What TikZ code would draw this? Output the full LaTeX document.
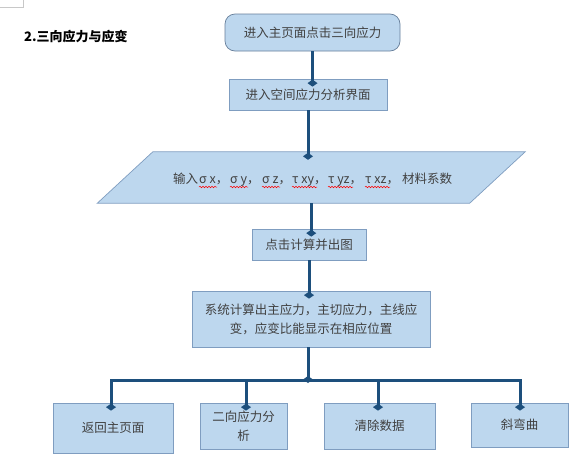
\documentclass[tikz,border=0pt]{standalone}
\usepackage{fontspec}
\setmainfont{Noto Sans CJK SC}
\usetikzlibrary{arrows.meta,decorations.pathmorphing}
\definecolor{fillc}{HTML}{BDD7EE}
\definecolor{bordc}{HTML}{7F9DC0}
\definecolor{arrc}{HTML}{1D4F7C}
\definecolor{txt}{HTML}{404040}
\definecolor{markc}{HTML}{C8C8C8}
\tikzset{
  box/.style={draw=bordc, fill=fillc, line width=0.7pt, inner sep=0pt, text=txt,
    font=\fontsize{12.5}{19}\selectfont, align=center},
  arr/.style={draw=arrc, line width=3pt, -{Diamond[length=7pt,width=10pt]}, shorten >=-8pt},
  busline/.style={draw=arrc, line width=3pt, line cap=rect},
  tok/.style={inner sep=0pt, anchor=base west, text=txt, font=\fontsize{12.5}{15}\selectfont},
  wavy/.style={draw=red, line width=0.5pt, decorate, decoration={snake, amplitude=0.8pt, segment length=3pt}}
}
\begin{document}
\begin{tikzpicture}[x=1pt, y=-1pt]
\useasboundingbox (0,0) rectangle (585,461);
% corner mark
\draw[markc, line width=0.6pt] (0,7) -- (23,7) -- (23,0);
% heading
\node[anchor=west, inner sep=0pt, font=\fontsize{13}{15}\selectfont\bfseries] (head) at (24,37) {2.三向应力与应变};
% boxes
\node[box, rounded corners=10pt, draw=bordc!80!black, minimum width=175, minimum height=37] (b1) at (312.5,32.5) {进入主页面点击三向应力};
\node[box, minimum width=158, minimum height=31] (b2) at (308,94.5) {进入空间应力分析界面};
\node[inner sep=0pt, minimum width=372, minimum height=51] (p) at (311.25,177.5) {};
\draw[draw=bordc, fill=fillc, line width=0.7pt]
  ([xshift=27.75]p.north west) -- ([xshift=27.75]p.north east) --
  ([xshift=-27.75]p.south east) -- ([xshift=-27.75]p.south west) -- cycle;
% parallelogram text
\node[tok] (t0) at (173,183) {输入};
\node[tok] (t1) at (199,183) {σ x，};
\node[tok] (t2) at (230,183) {σ y，};
\node[tok] (t3) at (262,183) {σ z，};
\node[tok] (t4) at (292,183) {τ xy，};
\node[tok] (t5) at (328,183) {τ yz，};
\node[tok] (t6) at (365,183) {τ xz，};
\node[tok] (t7) at (402,183) {材料系数};
\foreach \t/\l in {t1/18, t2/18, t3/18, t4/25, t5/25, t6/25}
  \draw[wavy] ([yshift=-4pt]\t.base west) -- ++(\l,0);
\node[box, minimum width=114, minimum height=31] (b3) at (309,244.5) {点击计算并出图};
\node[box, minimum width=238, minimum height=56] (b4) at (311,319) {系统计算出主应力，主切应力，主线应\\变，应变比能显示在相应位置};
\node[box, minimum width=120, minimum height=50] (c1) at (113,428) {返回主页面};
\node[box, minimum width=87, minimum height=46] (c2) at (243.5,426) {二向应力分\\析};
\node[box, minimum width=111, minimum height=46] (c3) at (379.5,426) {清除数据};
\node[box, minimum width=97, minimum height=44] (c4) at (519.5,425) {斜弯曲};
% connectors
\draw[arr] (b1.south) -- (b1.south |- b2.north);
\draw[arr] (b2.south) -- (b2.south |- p.north);
\draw[arr] (p.south) -- (p.south |- b3.north);
\draw[arr] (b3.south) -- (b3.south |- b4.north);
\coordinate (jm) at (308,380);
\coordinate (j1) at (111,380);
\coordinate (j2) at (246,380);
\coordinate (j3) at (378,380);
\coordinate (j4) at (520,380);
\draw[busline] (j1) -- (j4);
\draw[arr, shorten >=-3pt] (b4.south -| jm) -- (jm);
\draw[arr] (j1) -- (j1 |- c1.north);
\draw[arr] (j2) -- (j2 |- c2.north);
\draw[arr] (j3) -- (j3 |- c3.north);
\draw[arr] (j4) -- (j4 |- c4.north);
\end{tikzpicture}
\end{document}
